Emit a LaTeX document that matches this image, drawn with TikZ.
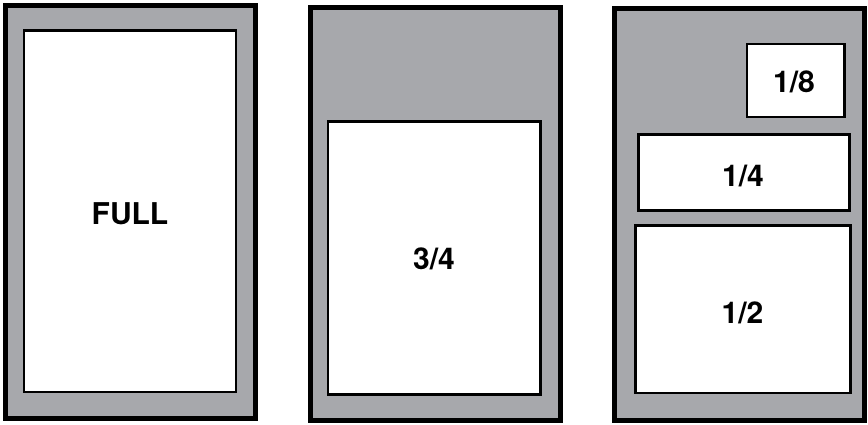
\documentclass[tikz,border=0pt]{standalone}
\usepackage{fontspec}
\setmainfont{TeX Gyre Heros}
\definecolor{panelgray}{RGB}{167,168,172}
\begin{document}
\begin{tikzpicture}[x=1pt,y=-1pt,
  panel/.style={draw=black, fill=panelgray, line width=5pt, inner sep=0pt, outer sep=0pt, anchor=north west},
  slot/.style={draw=black, fill=white, line width=2.5pt, inner sep=0pt, outer sep=0pt, anchor=north west},
  lbl/.style={font=\bfseries\fontsize{30}{30}\selectfont, inner sep=0pt, anchor=center}]
\useasboundingbox (0,0) rectangle (868,424);
% panel 1
\node[panel, minimum width=249.5pt, minimum height=413pt] (p1) at (5.5,5.5) {};
\node[slot, minimum width=212.2pt, minimum height=361.7pt] (full) at (23.8,30.5) {};
\node[lbl] (tfull) at (130,213.3) {FULL};
% panel 2
\node[panel, minimum width=250pt, minimum height=413.5pt] (p2) at (310,7) {};
\node[slot, minimum width=212.5pt, minimum height=273.4pt] (tq) at (328,121.3) {};
\node[lbl] (ttq) at (434,259) {3/4};
% panel 3
\node[panel, minimum width=249.7pt, minimum height=412pt] (p3) at (614.8,8.8) {};
\node[slot, minimum width=97.3pt, minimum height=73pt] (eighth) at (747,44) {};
\node[lbl] (teighth) at (794,82) {1/8};
\node[slot, minimum width=210.7pt, minimum height=76pt] (quarter) at (638.7,134.7) {};
\node[lbl] (tquarter) at (743,176) {1/4};
\node[slot, minimum width=215.1pt, minimum height=167.7pt] (half) at (635.3,225.3) {};
\node[lbl] (thalf) at (742.5,312.5) {1/2};
\end{tikzpicture}
\end{document}
